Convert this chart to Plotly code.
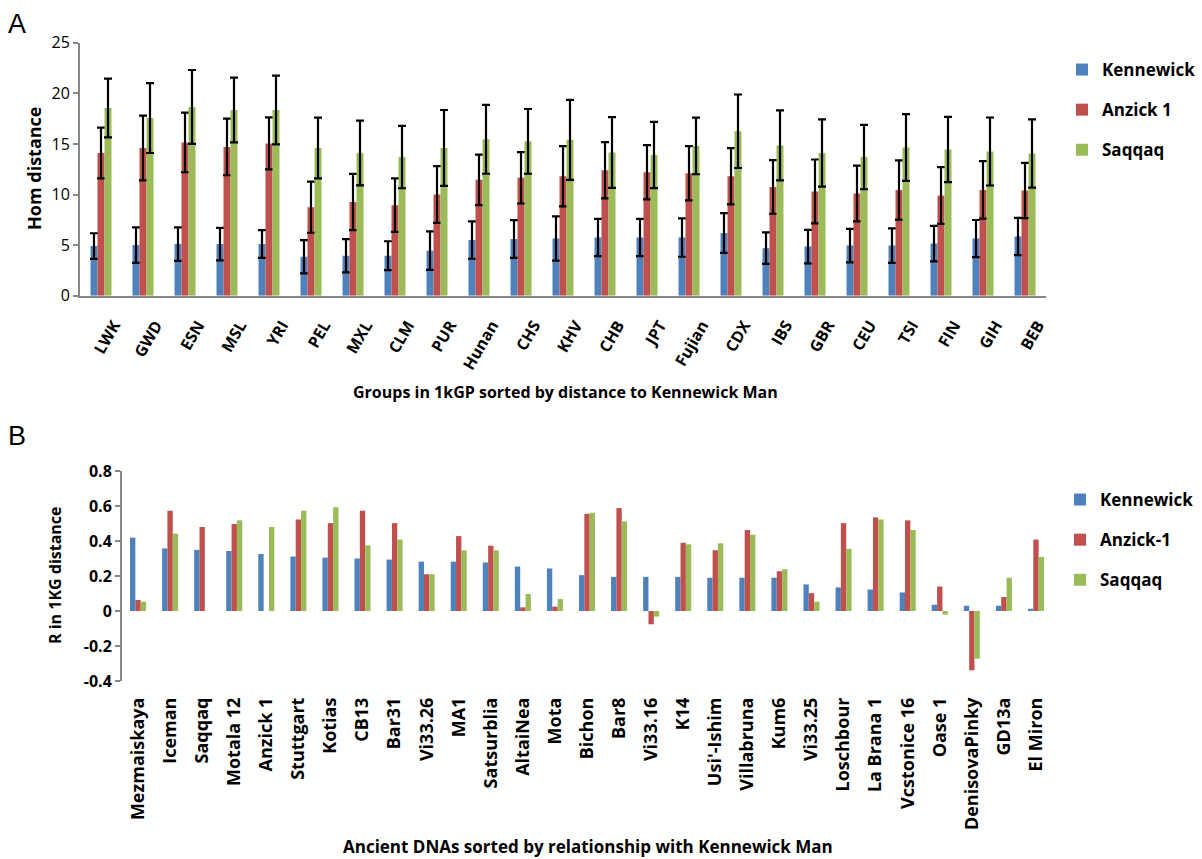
import plotly.graph_objects as go

W, H = 1202, 859

# Panel A: 1000 Genomes groups, sorted by distance to Kennewick Man
groups_1kg = ["LWK", "GWD", "ESN", "MSL", "YRI", "PEL", "MXL", "CLM", "PUR", "Hunan",
              "CHS", "KHV", "CHB", "JPT", "Fujian", "CDX", "IBS", "GBR", "CEU", "TSI",
              "FIN", "GIH", "BEB"]
hom_kennewick = [4.9, 5.0, 5.1, 5.1, 5.1, 3.85, 3.95, 3.95, 4.45, 5.5, 5.6, 5.65, 5.75,
                 5.75, 5.75, 6.2, 4.7, 4.85, 4.95, 4.95, 5.15, 5.65, 5.85]
hom_kennewick_err = [1.27, 1.75, 1.65, 1.6, 1.37, 1.65, 1.65, 1.43, 1.9, 1.85, 1.87, 2.19,
                     1.84, 1.84, 1.9, 1.96, 1.55, 1.65, 1.65, 1.7, 1.75, 1.83, 1.84]
hom_anzick = [14.1, 14.6, 15.15, 14.7, 15.05, 8.75, 9.25, 8.95, 10.0, 11.45, 11.65, 11.8,
              12.4, 12.2, 12.1, 11.8, 10.75, 10.3, 10.1, 10.45, 9.9, 10.45, 10.4]
hom_anzick_err = [2.5, 3.2, 2.95, 2.8, 2.57, 2.53, 2.78, 2.65, 2.8, 2.5, 2.54, 2.98, 2.78,
                  2.68, 2.68, 2.78, 2.65, 3.16, 2.75, 2.93, 2.8, 2.84, 2.73]
hom_saqqaq = [18.55, 17.55, 18.65, 18.35, 18.35, 14.6, 14.1, 13.7, 14.6, 15.45, 15.25, 15.4,
              14.15, 13.9, 14.8, 16.25, 14.85, 14.1, 13.7, 14.65, 14.45, 14.25, 14.05]
hom_saqqaq_err = [2.9, 3.45, 3.65, 3.2, 3.4, 3.0, 3.2, 3.08, 3.75, 3.4, 3.2, 3.95, 3.5, 3.27,
                  2.8, 3.63, 3.46, 3.33, 3.18, 3.3, 3.23, 3.36, 3.38]

# Panel B: ancient genomes, sorted by relationship with Kennewick Man
ancient = ["Mezmaiskaya", "Iceman", "Saqqaq", "Motala 12", "Anzick 1", "Stuttgart", "Kotias",
           "CB13", "Bar31", "Vi33.26", "MA1", "Satsurblia", "AltaiNea", "Mota", "Bichon",
           "Bar8", "Vi33.16", "K14", "Usi'-Ishim", "Villabruna", "Kum6", "Vi33.25",
           "Loschbour", "La Brana 1", "Vcstonice 16", "Oase 1", "DenisovaPinky", "GD13a",
           "El Miron"]
r_kennewick = [0.419, 0.358, 0.349, 0.343, 0.326, 0.311, 0.305, 0.300, 0.294, 0.282, 0.282,
               0.277, 0.254, 0.243, 0.205, 0.195, 0.195, 0.195, 0.190, 0.190, 0.190, 0.152,
               0.135, 0.123, 0.106, 0.036, 0.030, 0.030, 0.013]
r_anzick = [0.063, 0.573, 0.480, 0.497, None, 0.523, 0.502, 0.573, 0.502, 0.210, 0.428,
            0.373, 0.021, 0.025, 0.555, 0.588, -0.076, 0.390, 0.347, 0.463, 0.227, 0.102,
            0.502, 0.535, 0.518, 0.140, -0.339, 0.080, 0.408]
r_saqqaq = [0.053, 0.442, None, 0.518, 0.480, 0.573, 0.593, 0.375, 0.408, 0.210, 0.347,
            0.347, 0.097, 0.068, 0.561, 0.512, -0.032, 0.381, 0.387, 0.436, 0.239, 0.053,
            0.355, 0.523, 0.463, -0.021, -0.273, 0.190, 0.309]

r_tickvals = [-0.4, -0.2, 0, 0.2, 0.4, 0.6, 0.8]
r_ticktext = ["-0.4", "-0.2", "0", "0.2", "0.4", "0.6", "0.8"]

BLUE, RED, GREEN = "#4F81BD", "#C0504D", "#9BBB59"
AXIS_GREY = "#868686"
FONT = "Open Sans"


def px(x):
    return x / W


def py(y):
    return 1 - y / H


fig = go.Figure()

for name, vals, errs, color in [("Kennewick", hom_kennewick, hom_kennewick_err, BLUE),
                                ("Anzick 1", hom_anzick, hom_anzick_err, RED),
                                ("Saqqaq", hom_saqqaq, hom_saqqaq_err, GREEN)]:
    fig.add_trace(go.Bar(
        x=groups_1kg, y=vals, name=name, xaxis="x", yaxis="y",
        marker=dict(color=color, line=dict(width=0)),
        error_y=dict(type="data", array=errs, symmetric=True, visible=True,
                     color="black", thickness=2.2, width=4),
        legend="legend", legendgroup="a_" + name,
    ))

for name, vals, color in [("Kennewick", r_kennewick, BLUE),
                          ("Anzick-1", r_anzick, RED),
                          ("Saqqaq", r_saqqaq, GREEN)]:
    fig.add_trace(go.Bar(
        x=ancient, y=vals, name=name, xaxis="x2", yaxis="y2",
        marker=dict(color=color, line=dict(width=0)),
        legend="legend2", legendgroup="b_" + name,
    ))

legend_style = dict(font=dict(family=FONT, size=17, color="black", weight="bold"),
                    itemwidth=30, tracegroupgap=15, bgcolor="rgba(0,0,0,0)",
                    xanchor="left", yanchor="top", traceorder="grouped")

fig.update_layout(
    width=W, height=H,
    margin=dict(l=0, r=0, t=0, b=0, pad=0, autoexpand=False),
    paper_bgcolor="white", plot_bgcolor="white",
    barmode="group",
    bargap=0.5, bargroupgap=0,
    font=dict(family=FONT, color="black"),
    showlegend=True,
    legend=dict(x=px(1062), y=py(52), **legend_style),
    legend2=dict(x=px(1060), y=py(482), **legend_style),
    xaxis=dict(
        domain=[px(80), px(1046)], anchor="y", automargin=False,
        showline=True, linecolor=AXIS_GREY, linewidth=2,
        ticks="", showgrid=False, tickangle=-60,
        tickfont=dict(family=FONT, size=16, weight="bold"),
        ticklabelstandoff=12, ticklabelshift=13,
    ),
    yaxis=dict(
        domain=[py(295.7), py(42.7)], anchor="x", range=[0, 25], dtick=5,
        automargin=False,
        showline=True, linecolor=AXIS_GREY, linewidth=2,
        ticks="outside", ticklen=5, tickcolor=AXIS_GREY, tickwidth=1.5,
        showgrid=False, zeroline=False,
        tickfont=dict(family=FONT, size=16),
    ),
    xaxis2=dict(
        domain=[px(122), px(1052)], anchor="y2", automargin=False,
        showline=False, ticks="", showgrid=False, tickangle=-90,
        tickfont=dict(family=FONT, size=18, weight="bold"),
        ticklabelstandoff=12,
    ),
    yaxis2=dict(
        domain=[py(681), py(471)], anchor="x2", range=[-0.4, 0.8],
        automargin=False,
        tickvals=r_tickvals, ticktext=r_ticktext,
        showline=True, linecolor=AXIS_GREY, linewidth=2,
        ticks="outside", ticklen=5, tickcolor=AXIS_GREY, tickwidth=1.5,
        showgrid=False, zeroline=False,
        tickfont=dict(family=FONT, size=16, weight="bold"),
    ),
)

title_font = dict(family=FONT, size=17, color="black", weight="bold")
annotations = [
    dict(text="A", x=px(17), y=py(24), font=dict(family="Liberation Sans", size=27, color="black")),
    dict(text="B", x=px(17), y=py(436), font=dict(family="Liberation Sans", size=27, color="black")),
    dict(text="Hom distance", x=px(34), y=py(168), textangle=-90,
         font=dict(family=FONT, size=18, color="black", weight="bold")),
    dict(text="Groups in 1kGP sorted by distance to Kennewick Man", x=px(565), y=py(392),
         font=dict(family=FONT, size=16, color="black", weight="bold")),
    dict(text="R in 1KG distance", x=px(55), y=py(575), textangle=-90,
         font=dict(family=FONT, size=16, color="black", weight="bold")),
    dict(text="Ancient DNAs sorted by relationship with Kennewick Man", x=px(588), y=py(846),
         font=title_font),
]
for a in annotations:
    a.update(xref="paper", yref="paper", showarrow=False, xanchor="center", yanchor="middle")
fig.update_layout(annotations=annotations)

fig.write_html("out.html")
